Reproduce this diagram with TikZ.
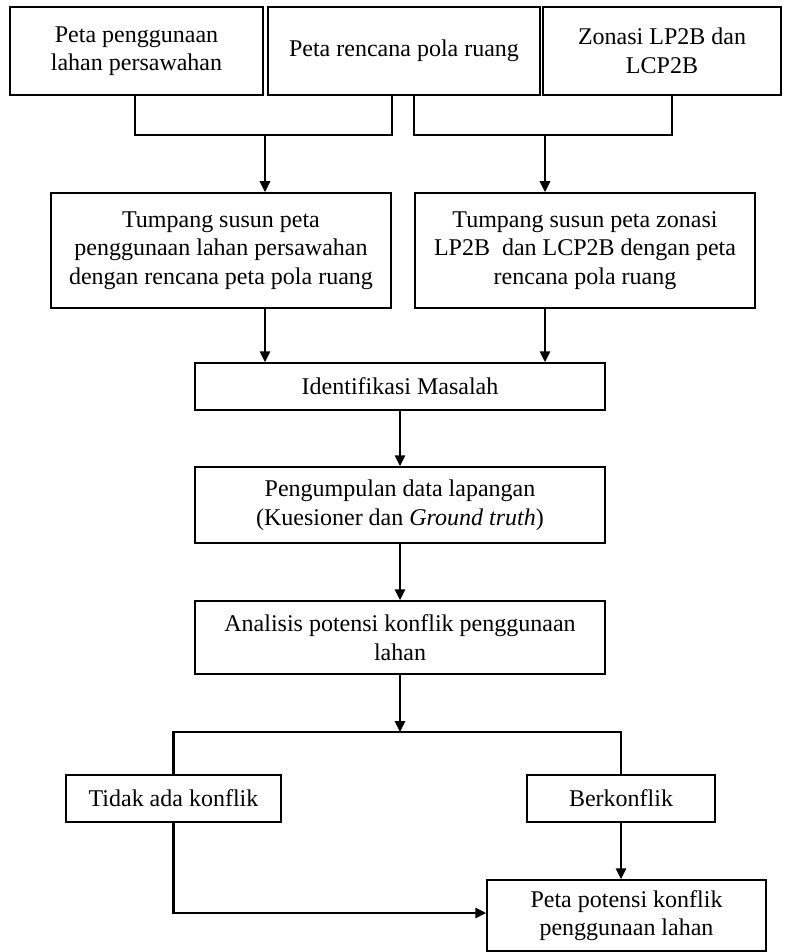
\documentclass[tikz,border=0pt]{standalone}
\usepackage{fontspec}
\setmainfont{Liberation Serif}
\usetikzlibrary{arrows.meta,calc}
\tikzset{
  box/.style={draw=black, line width=1.5pt, rectangle, align=center, inner sep=0pt,
    font=\fontsize{24}{28.5}\selectfont},
  conn/.style={draw=black, line width=2.6pt},
  arr/.style={draw=black, line width=2.6pt, -{Triangle[length=11pt,width=10pt]}}
}
\begin{document}
\begin{tikzpicture}[x=1pt,y=-1pt]
\useasboundingbox (0,0) rectangle (784,952);
\node[box, minimum width=253pt, minimum height=88pt] (A) at (136.5,51) {Peta penggunaan\\lahan persawahan};
\node[box, minimum width=272pt, minimum height=88pt] (B) at (404,51) {Peta rencana pola ruang};
\node[box, minimum width=238pt, minimum height=88pt] (C) at (662,51) {Zonasi LP2B dan\\LCP2B};
\node[box, minimum width=340pt, minimum height=115pt] (D) at (221,250.5) {Tumpang susun peta\\penggunaan lahan persawahan\\dengan rencana peta pola ruang};
\node[box, minimum width=340pt, minimum height=115pt] (E) at (585,250.5) {Tumpang susun peta zonasi\\LP2B\ \ dan LCP2B dengan peta\\rencana pola ruang};
\node[box, minimum width=410pt, minimum height=47pt] (F) at (400,386.5) {Identifikasi Masalah};
\node[box, minimum width=410pt, minimum height=76pt] (G) at (400,505) {Pengumpulan data lapangan\\(Kuesioner dan \textit{Ground truth})};
\node[box, minimum width=410pt, minimum height=73pt] (H) at (400,637.5) {Analisis potensi konflik penggunaan\\lahan};
\node[box, minimum width=215pt, minimum height=47pt] (T) at (173.5,798.5) {Tidak ada konflik};
\node[box, minimum width=188pt, minimum height=47pt] (K) at (621,798.5) {Berkonflik};
\node[box, minimum width=279pt, minimum height=71pt] (J) at (626.5,915.5) {Peta potensi konflik\\penggunaan lahan};
\coordinate (j1) at (265,135);
\coordinate (j2) at (545,135);
\coordinate (j3) at (400,732);
\draw[conn] ([xshift=-1.5pt]A.south) |- (j1) -| ([xshift=-12pt]B.south);
\draw[conn] ([xshift=10pt]B.south) |- (j2) -| ([xshift=10pt]C.south);
\draw[arr] (j1) -- (j1 |- D.north);
\draw[arr] (j2) -- (j2 |- E.north);
\draw[arr] (j1 |- D.south) -- (j1 |- F.north);
\draw[arr] (j2 |- E.south) -- (j2 |- F.north);
\draw[arr] (F.south) -- (G.north);
\draw[arr] (G.south) -- (H.north);
\draw[arr] (H.south) -- (j3);
\draw[conn] (T.north) |- (j3) -| (K.north);
\draw[arr] (T.south) |- ([yshift=2.5pt]J.west);
\draw[arr] (K.south) -- (K.south |- J.north);
\end{tikzpicture}
\end{document}
